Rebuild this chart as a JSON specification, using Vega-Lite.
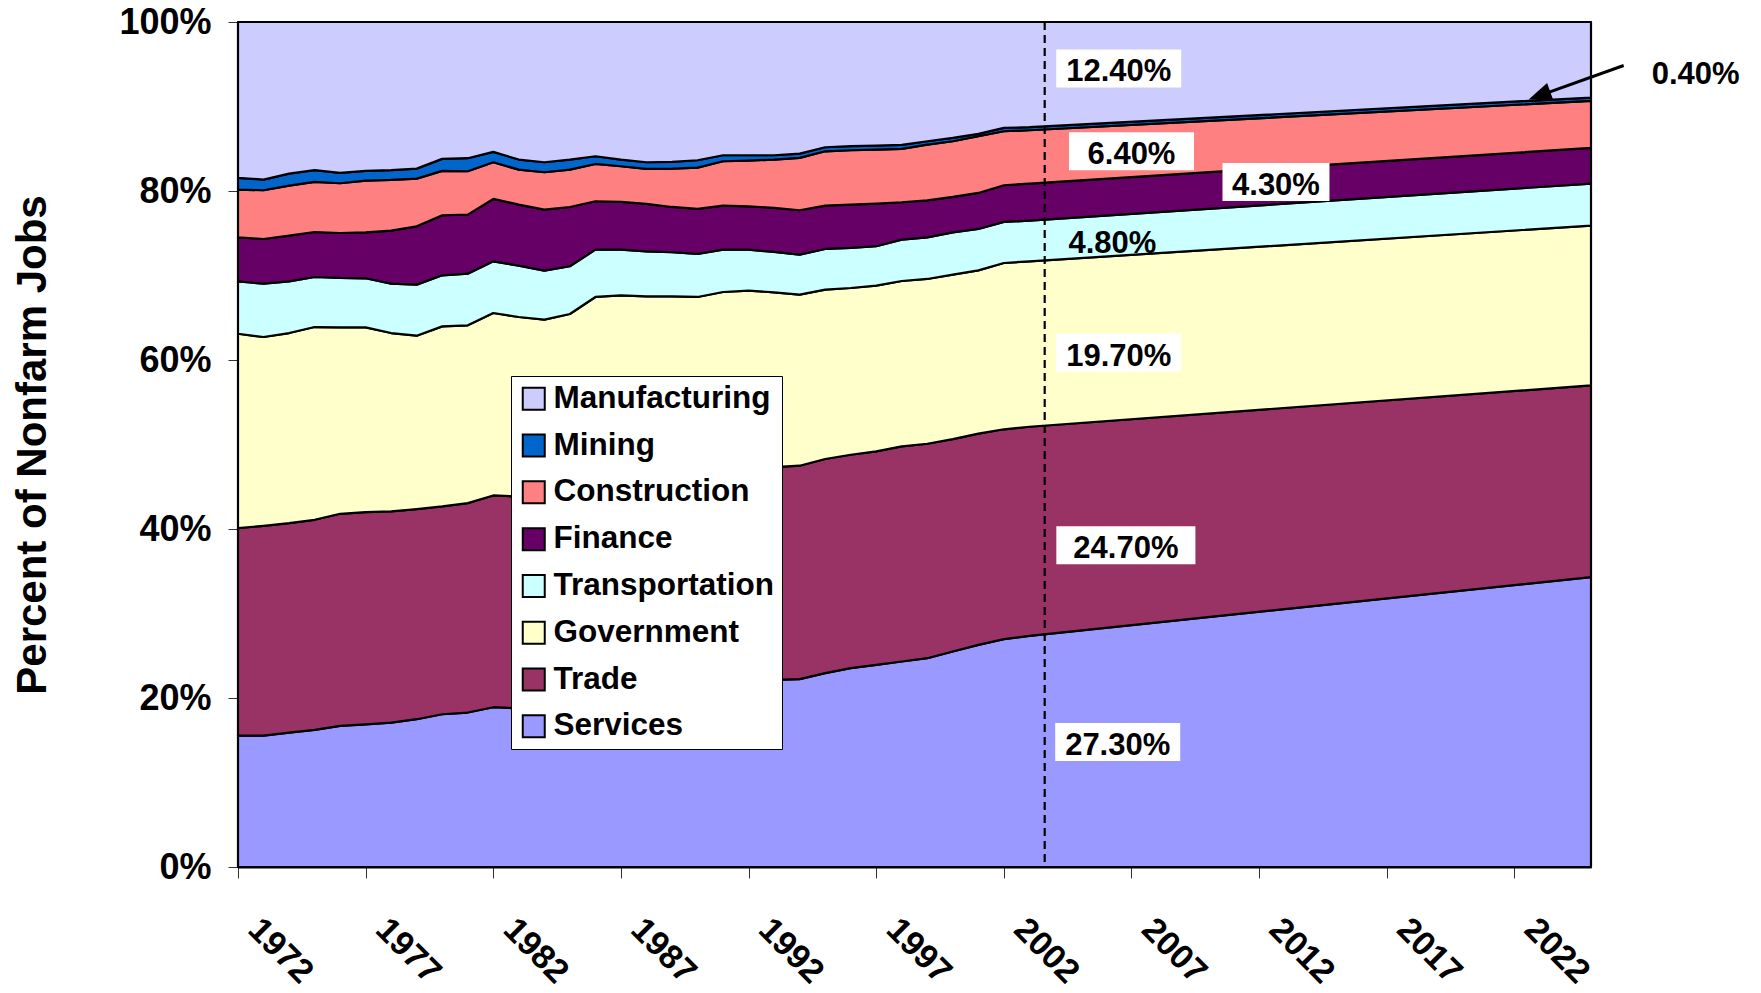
{
  "$schema": "https://vega.github.io/schema/vega-lite/v6.json",
  "width": 1353,
  "height": 845,
  "autosize": {"type": "none"},
  "padding": {"left": 238, "top": 22, "right": 170, "bottom": 126},
  "background": "white",
  "config": {"view": {"stroke": "black", "strokeWidth": 1.5}, "font": "Liberation Sans"},
  "datasets": {
    "jobs": [
      {"year": 1972, "Services": 15.55, "Trade": 24.55, "Government": 23.01, "Transportation": 6.20, "Finance": 5.21, "Construction": 5.65, "Mining": 1.38, "Manufacturing": 18.45},
      {"year": 1973, "Services": 15.55, "Trade": 24.83, "Government": 22.34, "Transportation": 6.31, "Finance": 5.29, "Construction": 5.77, "Mining": 1.26, "Manufacturing": 18.65},
      {"year": 1974, "Services": 15.91, "Trade": 24.78, "Government": 22.50, "Transportation": 6.12, "Finance": 5.41, "Construction": 5.92, "Mining": 1.42, "Manufacturing": 17.94},
      {"year": 1975, "Services": 16.22, "Trade": 24.87, "Government": 22.81, "Transportation": 5.92, "Finance": 5.33, "Construction": 5.92, "Mining": 1.39, "Manufacturing": 17.54},
      {"year": 1976, "Services": 16.70, "Trade": 25.10, "Government": 22.06, "Transportation": 5.85, "Finance": 5.32, "Construction": 5.89, "Mining": 1.22, "Manufacturing": 17.86},
      {"year": 1977, "Services": 16.89, "Trade": 25.11, "Government": 21.86, "Transportation": 5.81, "Finance": 5.44, "Construction": 6.12, "Mining": 1.15, "Manufacturing": 17.62},
      {"year": 1978, "Services": 17.09, "Trade": 24.99, "Government": 21.11, "Transportation": 5.84, "Finance": 6.28, "Construction": 6.00, "Mining": 1.15, "Manufacturing": 17.54},
      {"year": 1979, "Services": 17.49, "Trade": 24.86, "Government": 20.53, "Transportation": 6.04, "Finance": 6.90, "Construction": 5.65, "Mining": 1.18, "Manufacturing": 17.35},
      {"year": 1980, "Services": 18.08, "Trade": 24.59, "Government": 21.31, "Transportation": 6.04, "Finance": 7.11, "Construction": 5.25, "Mining": 1.42, "Manufacturing": 16.20},
      {"year": 1981, "Services": 18.28, "Trade": 24.78, "Government": 21.04, "Transportation": 6.12, "Finance": 6.99, "Construction": 5.13, "Mining": 1.54, "Manufacturing": 16.12},
      {"year": 1982, "Services": 18.91, "Trade": 25.06, "Government": 21.59, "Transportation": 6.12, "Finance": 7.38, "Construction": 4.34, "Mining": 1.23, "Manufacturing": 15.37},
      {"year": 1983, "Services": 18.79, "Trade": 25.06, "Government": 21.24, "Transportation": 6.08, "Finance": 7.22, "Construction": 4.14, "Mining": 1.19, "Manufacturing": 16.28},
      {"year": 1984, "Services": 19.10, "Trade": 25.00, "Government": 20.67, "Transportation": 5.80, "Finance": 7.23, "Construction": 4.42, "Mining": 1.18, "Manufacturing": 16.60},
      {"year": 1985, "Services": 19.40, "Trade": 25.00, "Government": 21.04, "Transportation": 5.65, "Finance": 7.02, "Construction": 4.42, "Mining": 1.19, "Manufacturing": 16.28},
      {"year": 1986, "Services": 19.70, "Trade": 25.10, "Government": 22.66, "Transportation": 5.60, "Finance": 5.73, "Construction": 4.41, "Mining": 0.91, "Manufacturing": 15.89},
      {"year": 1987, "Services": 20.10, "Trade": 25.20, "Government": 22.35, "Transportation": 5.41, "Finance": 5.65, "Construction": 4.22, "Mining": 0.79, "Manufacturing": 16.28},
      {"year": 1988, "Services": 20.50, "Trade": 25.20, "Government": 21.84, "Transportation": 5.32, "Finance": 5.61, "Construction": 4.14, "Mining": 0.79, "Manufacturing": 16.60},
      {"year": 1989, "Services": 20.90, "Trade": 25.20, "Government": 21.44, "Transportation": 5.21, "Finance": 5.36, "Construction": 4.54, "Mining": 0.79, "Manufacturing": 16.56},
      {"year": 1990, "Services": 21.20, "Trade": 25.30, "Government": 20.96, "Transportation": 5.09, "Finance": 5.33, "Construction": 4.89, "Mining": 0.87, "Manufacturing": 16.36},
      {"year": 1991, "Services": 21.50, "Trade": 25.30, "Government": 21.25, "Transportation": 5.01, "Finance": 5.21, "Construction": 5.25, "Mining": 0.71, "Manufacturing": 15.77},
      {"year": 1992, "Services": 21.80, "Trade": 25.20, "Government": 21.21, "Transportation": 4.85, "Finance": 5.13, "Construction": 5.41, "Mining": 0.63, "Manufacturing": 15.77},
      {"year": 1993, "Services": 22.15, "Trade": 25.18, "Government": 20.68, "Transportation": 4.78, "Finance": 5.21, "Construction": 5.72, "Mining": 0.51, "Manufacturing": 15.77},
      {"year": 1994, "Services": 22.23, "Trade": 25.26, "Government": 20.24, "Transportation": 4.74, "Finance": 5.25, "Construction": 6.20, "Mining": 0.51, "Manufacturing": 15.57},
      {"year": 1995, "Services": 22.94, "Trade": 25.34, "Government": 20.04, "Transportation": 4.82, "Finance": 5.13, "Construction": 6.43, "Mining": 0.48, "Manufacturing": 14.82},
      {"year": 1996, "Services": 23.53, "Trade": 25.26, "Government": 19.73, "Transportation": 4.74, "Finance": 5.13, "Construction": 6.43, "Mining": 0.48, "Manufacturing": 14.70},
      {"year": 1997, "Services": 23.92, "Trade": 25.26, "Government": 19.62, "Transportation": 4.66, "Finance": 5.05, "Construction": 6.39, "Mining": 0.48, "Manufacturing": 14.62},
      {"year": 1998, "Services": 24.32, "Trade": 25.46, "Government": 19.57, "Transportation": 4.90, "Finance": 4.42, "Construction": 6.31, "Mining": 0.48, "Manufacturing": 14.54},
      {"year": 1999, "Services": 24.71, "Trade": 25.38, "Government": 19.50, "Transportation": 4.93, "Finance": 4.38, "Construction": 6.59, "Mining": 0.40, "Manufacturing": 14.11},
      {"year": 2000, "Services": 25.50, "Trade": 25.14, "Government": 19.46, "Transportation": 5.01, "Finance": 4.19, "Construction": 6.59, "Mining": 0.39, "Manufacturing": 13.72},
      {"year": 2001, "Services": 26.29, "Trade": 24.99, "Government": 19.33, "Transportation": 4.90, "Finance": 4.26, "Construction": 6.71, "Mining": 0.28, "Manufacturing": 13.24},
      {"year": 2002, "Services": 26.96, "Trade": 24.84, "Government": 19.68, "Transportation": 4.86, "Finance": 4.34, "Construction": 6.39, "Mining": 0.40, "Manufacturing": 12.53},
      {"year": 2003, "Services": 27.36, "Trade": 24.74, "Government": 19.58, "Transportation": 4.82, "Finance": 4.38, "Construction": 6.31, "Mining": 0.36, "Manufacturing": 12.45},
      {"year": 2025, "Services": 34.30, "Trade": 22.70, "Government": 18.90, "Transportation": 4.98, "Finance": 4.22, "Construction": 5.57, "Mining": 0.39, "Manufacturing": 8.94}
    ],
    "marker": [{"year": 2003.6}],
    "notes": [
      {"label": "12.40%", "year": 2006.5, "pct": 94.5},
      {"label": "6.40%", "year": 2007.0, "pct": 84.7},
      {"label": "4.30%", "year": 2012.66, "pct": 81.07},
      {"label": "4.80%", "year": 2006.25, "pct": 74.25},
      {"label": "19.70%", "year": 2006.5, "pct": 60.86},
      {"label": "24.70%", "year": 2006.78, "pct": 38.07},
      {"label": "27.30%", "year": 2006.46, "pct": 14.8},
      {"label": "0.40%", "year": 2029.1, "pct": 94.26}
    ],
    "arrow": [{"fromYear": 2026.28, "fromPct": 94.85, "toYear": 2022.98, "toPct": 91.28}]
  },
  "layer": [
    {
      "data": {"name": "jobs"},
      "transform": [
        {"fold": ["Services", "Trade", "Government", "Transportation", "Finance", "Construction", "Mining", "Manufacturing"], "as": ["sector", "share"]},
        {"calculate": "indexof(['Services','Trade','Government','Transportation','Finance','Construction','Mining','Manufacturing'], datum.sector)", "as": "stackOrder"}
      ],
      "mark": {"type": "area", "stroke": "black", "strokeWidth": 2.2, "strokeJoin": "round", "opacity": 1, "fillOpacity": 1},
      "encoding": {
        "x": {
          "field": "year", "type": "quantitative",
          "scale": {"domain": [1972, 2025], "nice": false, "zero": false},
          "axis": {
            "values": [1972, 1977, 1982, 1987, 1992, 1997, 2002, 2007, 2012, 2017, 2022],
            "format": "d", "title": null, "grid": false,
            "labelAngle": 45, "labelAlign": "left", "labelBaseline": "middle",
            "labelFont": "Liberation Sans", "labelFontWeight": "bold", "labelFontSize": 34, "labelColor": "black",
            "labelPadding": 46, "labelOffset": 15, "labelFlush": false, "labelOverlap": false, "labelBound": false,
            "tickSize": 11, "tickColor": "#333333", "tickWidth": 1,
            "domainColor": "black", "domainWidth": 2
          }
        },
        "y": {
          "field": "share", "type": "quantitative", "stack": "zero",
          "scale": {"domain": [0, 100], "nice": false},
          "axis": {
            "values": [0, 20, 40, 60, 80, 100],
            "labelExpr": "datum.value + '%'",
            "title": "Percent of Nonfarm Jobs",
            "titleFont": "Liberation Sans", "titleFontSize": 42, "titleFontWeight": "bold", "titleColor": "black",
            "titleX": -206, "titleY": 422.5, "titleAngle": -90, "titleAlign": "center", "titleBaseline": "middle",
            "labelFont": "Liberation Sans", "labelFontSize": 36, "labelFontWeight": "bold", "labelColor": "black",
            "labelPadding": 17, "tickSize": 10, "tickColor": "#333333", "tickWidth": 1,
            "grid": false, "domainColor": "black", "domainWidth": 2
          }
        },
        "color": {
          "field": "sector", "type": "nominal",
          "scale": {
            "domain": ["Manufacturing", "Mining", "Construction", "Finance", "Transportation", "Government", "Trade", "Services"],
            "range": ["#CCCCFF", "#0066CC", "#FF8080", "#660066", "#CCFFFF", "#FFFFCC", "#993366", "#9999FF"]
          },
          "legend": {
            "orient": "none", "legendX": 273, "legendY": 354, "title": null,
            "fillColor": "white", "strokeColor": "black", "padding": 7,
            "symbolType": "square", "symbolSize": 484, "symbolStrokeColor": "black", "symbolStrokeWidth": 2, "symbolOpacity": 1,
            "labelFont": "Liberation Sans", "labelFontSize": 31.5, "labelFontWeight": "bold", "labelColor": "black",
            "labelOffset": 4, "rowPadding": 13.8, "labelLimit": 400
          }
        },
        "order": {"field": "stackOrder", "type": "quantitative"}
      }
    },
    {
      "data": {"name": "marker"},
      "mark": {"type": "rule", "strokeDash": [8, 5], "strokeWidth": 2.2, "color": "black"},
      "encoding": {
        "x": {"field": "year", "type": "quantitative", "scale": {"domain": [1972, 2025], "nice": false, "zero": false}}
      }
    },
    {
      "data": {"name": "notes"},
      "transform": [{"filter": {"field": "label", "oneOf": ["12.40%", "6.40%", "4.30%", "19.70%", "24.70%", "27.30%"]}}],
      "mark": {"type": "point", "filled": true, "color": "white", "opacity": 1, "strokeWidth": 0},
      "encoding": {
        "x": {"field": "year", "type": "quantitative", "scale": {"domain": [1972, 2025], "nice": false, "zero": false}},
        "y": {"field": "pct", "type": "quantitative", "scale": {"domain": [0, 100], "nice": false}},
        "shape": {
          "field": "label", "type": "nominal", "legend": null,
          "scale": {
            "domain": ["12.40%", "6.40%", "4.30%", "19.70%", "24.70%", "27.30%"],
            "range": ["M-1.645,-0.5H1.645V0.5H-1.645Z", "M-1.645,-0.5H1.645V0.5H-1.645Z", "M-1.408,-0.5H1.408V0.5H-1.408Z", "M-1.645,-0.5H1.645V0.5H-1.645Z", "M-1.83,-0.5H1.83V0.5H-1.83Z", "M-1.645,-0.5H1.645V0.5H-1.645Z"]
          }
        },
        "size": {"value": 5776}
      }
    },
    {
      "data": {"name": "notes"},
      "mark": {"type": "text", "font": "Liberation Sans", "fontSize": 31, "fontWeight": "bold", "color": "black", "align": "center", "baseline": "middle", "dy": 4},
      "encoding": {
        "x": {"field": "year", "type": "quantitative", "scale": {"domain": [1972, 2025], "nice": false, "zero": false}},
        "y": {"field": "pct", "type": "quantitative", "scale": {"domain": [0, 100], "nice": false}},
        "text": {"field": "label", "type": "nominal"}
      }
    },
    {
      "data": {"name": "arrow"},
      "mark": {"type": "rule", "strokeWidth": 3, "color": "black"},
      "encoding": {
        "x": {"field": "fromYear", "type": "quantitative", "scale": {"domain": [1972, 2025], "nice": false, "zero": false}},
        "y": {"field": "fromPct", "type": "quantitative", "scale": {"domain": [0, 100], "nice": false}},
        "x2": {"field": "toYear"},
        "y2": {"field": "toPct"}
      }
    },
    {
      "data": {"name": "arrow"},
      "mark": {"type": "point", "shape": "M0,-1L-0.8,1L0.8,1Z", "filled": true, "color": "black", "opacity": 1, "size": 529, "angle": 250, "strokeWidth": 0},
      "encoding": {
        "x": {"field": "toYear", "type": "quantitative", "scale": {"domain": [1972, 2025], "nice": false, "zero": false}},
        "y": {"field": "toPct", "type": "quantitative", "scale": {"domain": [0, 100], "nice": false}}
      }
    }
  ]
}
